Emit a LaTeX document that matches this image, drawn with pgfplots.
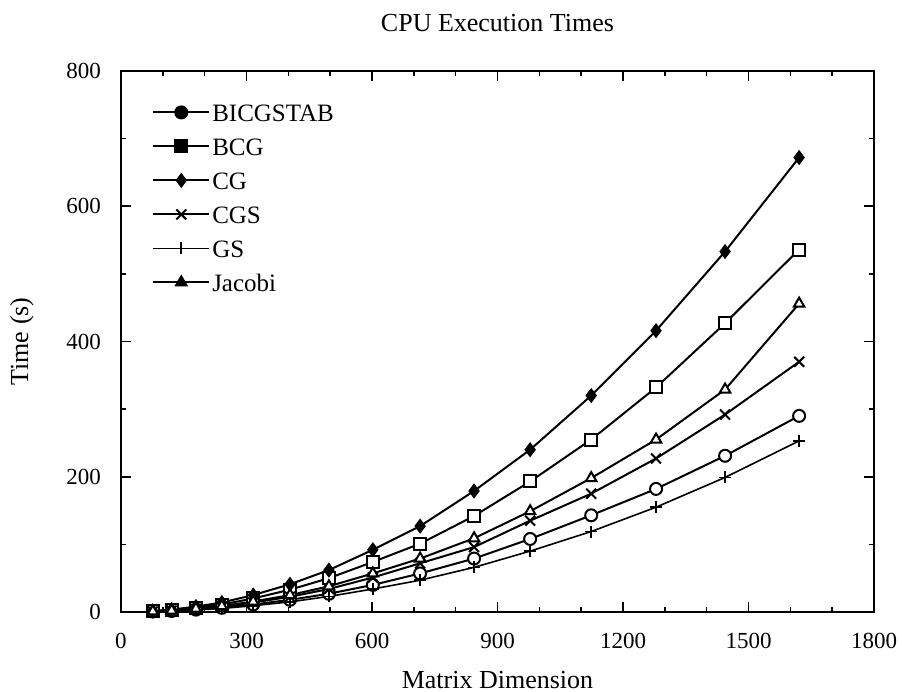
\documentclass[border=0pt]{standalone}
\usepackage{fontspec}
\setmainfont{Liberation Serif}
\usepackage{pgfplots}
\usepackage{pgfplotstable}
\pgfplotsset{compat=1.18}

% matrix dimension vs. CPU time (s)
\pgfplotstableread{
n     bicgstab bcg   cg    cgs   gs    jacobi
76    0.7      1.2   1.5   0.8   0.6   0.9
121   1.5      3     3.5   1.9   1.3   2.2
179   3.5      6.5   8     4.4   3     5
241   6.2      11    14    7.7   5.2   8.7
316   11       20    25    14    9.3   15.5
404   18       33    41    22.5  15    25
497   27       50    62    34    23    38
602   40       74    92    51    34    57
715   57       101   127   72    47    79
844   79       142   179   96    66    109
978   108      193   240   135   90    149
1124  143      255   320   175   119   198
1279  182      332   416   227   155   255
1444  231      427   533   292   199   329
1621  290      536   672   370   253   456
}\cputimes

\begin{document}
\begin{tikzpicture}
\begin{axis}[
    name=ax,
    scale only axis,
    width=376.5pt, height=270.5pt,
    xmin=0, xmax=1800,
    ymin=0, ymax=800,
    xtick={0,300,...,1800},
    ytick={0,200,...,800},
    minor x tick num=2,
    minor y tick num=1,
    tick align=inside,
    major tick length=5pt,
    minor tick length=2.5pt,
    tick style={black, line width=0.8pt},
    axis line style={line width=1pt},
    /pgf/number format/assume math mode=true,
    /pgf/number format/set thousands separator={},
    tick label style={font=\fontsize{11.5}{13}\selectfont},
    xticklabel style={yshift=-7pt},
    yticklabel style={xshift=-6.5pt},
    title={CPU Execution Times},
    title style={font=\fontsize{13}{15}\selectfont,
        at={(axis description cs:0.5,1)}, anchor=center, yshift=18pt},
    xlabel={Matrix Dimension},
    xlabel style={font=\fontsize{13}{15}\selectfont,
        at={(axis description cs:0.5,0)}, anchor=center, yshift=-34pt},
    ylabel={Time (s)},
    ylabel style={font=\fontsize{13}{15}\selectfont,
        at={(axis description cs:-0.1315,0.5)}, anchor=center},
    every axis plot/.append style={black, line width=1pt, mark size=3pt},
    legend cell align=left,
    legend style={draw=none, fill=none,
        at={(axis description cs:0.041,0.9445)}, anchor=north west,
        inner sep=0pt, row sep=6pt,
        font=\fontsize{12.5}{14}\selectfont,
        nodes={inner sep=1pt, text height=9pt, text depth=0pt}},
    legend image code/.code={
        \draw[mark repeat=2, mark phase=2, mark options={solid, fill=black}]
            plot coordinates {(0pt,0pt) (14pt,0pt) (28pt,0pt)};
    },
]
\addplot[mark=*, mark options={fill=white}] table[x=n, y=bicgstab] {\cputimes};
\addlegendentry{BICGSTAB}
\addplot[mark=square*, mark options={fill=white}] table[x=n, y=bcg] {\cputimes};
\addlegendentry{BCG}
\addplot[mark=diamond*, mark options={fill=black}] table[x=n, y=cg] {\cputimes};
\addlegendentry{CG}
\addplot[mark=x, mark size=3.5pt] table[x=n, y=cgs] {\cputimes};
\addlegendentry{CGS}
\addplot[mark=+, line width=0.8pt] table[x=n, y=gs] {\cputimes};
\addlegendentry{GS}
\addplot[mark=triangle*, mark options={fill=white}] table[x=n, y=jacobi] {\cputimes};
\addlegendentry{Jacobi}
\end{axis}
\pgfresetboundingbox
\useasboundingbox ([shift={(-60.5pt,-40pt)}]ax.south west) rectangle ([shift={(14pt,35.5pt)}]ax.north east);
\end{tikzpicture}
\end{document}
